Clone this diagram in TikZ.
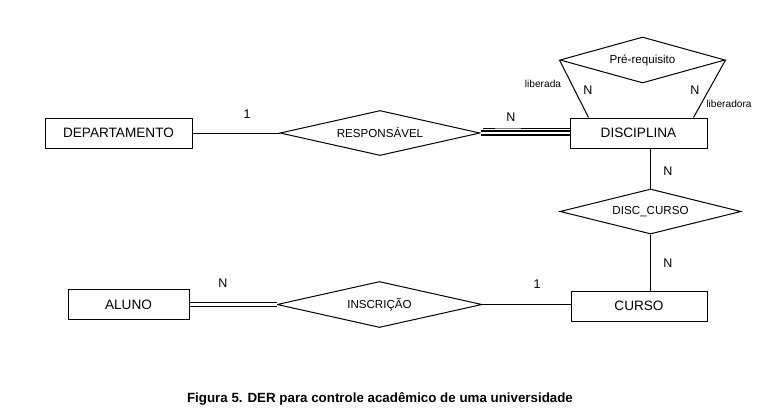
\documentclass[tikz,border=0pt]{standalone}
\usepackage{fontspec}
\setmainfont{Liberation Sans}
\usetikzlibrary{shapes.geometric,calc}
\begin{document}
\begin{tikzpicture}[x=0.75pt,y=-0.75pt,
  ent/.style={draw,line width=0.75pt,minimum height=22.5pt,inner sep=0pt,font=\fontsize{10.2}{12}\selectfont},
  rel/.style={draw,diamond,aspect=4,line width=0.75pt,inner sep=0pt,font=\fontsize{8.7}{10}\selectfont},
  card/.style={font=\fontsize{9.4}{11}\selectfont,inner sep=0pt},
  role/.style={font=\fontsize{7.6}{9}\selectfont,inner sep=0pt},
  conn/.style={line width=0.75pt},
  dbl/.style={double,line width=1.1pt,double distance=1.6pt},
  thickseg/.style={line width=1.1pt}]
\useasboundingbox (0,0) rectangle (767,415);
% entities
\node[ent,minimum width=110.25pt] (dep) at (118.5,133) {DEPARTAMENTO};
\node[ent,minimum width=102.75pt] (disc) at (638.5,133) {DISCIPLINA};
\node[ent,minimum width=102pt] (curso) at (639,306) {CURSO};
\node[ent,minimum width=90.75pt] (aluno) at (128.5,304.5) {ALUNO};
% relationships
\node[rel,minimum width=150pt,minimum height=33.75pt] (resp) at (380,133) {RESPONSÁVEL};
\node[rel,minimum width=123.75pt,minimum height=34.5pt] (pre) at (642.5,60) {Pré-requisito};
\node[rel,minimum width=135.75pt,minimum height=33.75pt] (dc) at (650.5,211.5) {DISC\_CURSO};
\node[rel,minimum width=153.75pt,minimum height=34.5pt] (insc) at (379.5,304.5) {INSCRIÇÃO};
% connectors
\draw[conn] (dep.east) -- (resp.west);
\draw[dbl] (resp.east) -- (disc.west);
\draw[thickseg] ($(resp.east)+(2,-4.5)$) -- ($(resp.east)+(14,-4.5)$);
\draw[gray,line width=0.5pt] ($(resp.east)+(14,-4.5)$) -- ($(resp.east)+(40,-4.5)$);
\draw[thickseg] ($(resp.east)+(40,-4.5)$) -- ($(disc.west)+(0,-4.5)$);
\draw[conn] (pre.west) -- ($(disc.north west)+(19,0)$);
\draw[conn] (pre.east) -- ($(disc.north east)+(-14,0)$);
\draw[conn] (dc.north |- disc.south) -- (dc.north);
\draw[conn] (dc.south) -- (dc.south |- curso.north);
\draw[dbl] (aluno.east) -- (insc.west);
\draw[conn] (insc.east) -- (insc.east -| curso.west);
% labels
\node[card] (c1) at (247,114) {1};
\node[card] (c2) at (511,117) {N};
\node[role] (r1) at (543,84) {liberada};
\node[card] (c3) at (588,90) {N};
\node[card] (c4) at (695,90) {N};
\node[role] (r2) at (729,104) {liberadora};
\node[card] (c5) at (668,171) {N};
\node[card] (c6) at (668,263) {N};
\node[card] (c7) at (223,283) {N};
\node[card] (c8) at (537,284) {1};
\node[font=\bfseries\fontsize{10}{12}\selectfont] (cap) at (380,399) {Figura 5. DER para controle acadêmico de uma universidade};
\end{tikzpicture}
\end{document}
